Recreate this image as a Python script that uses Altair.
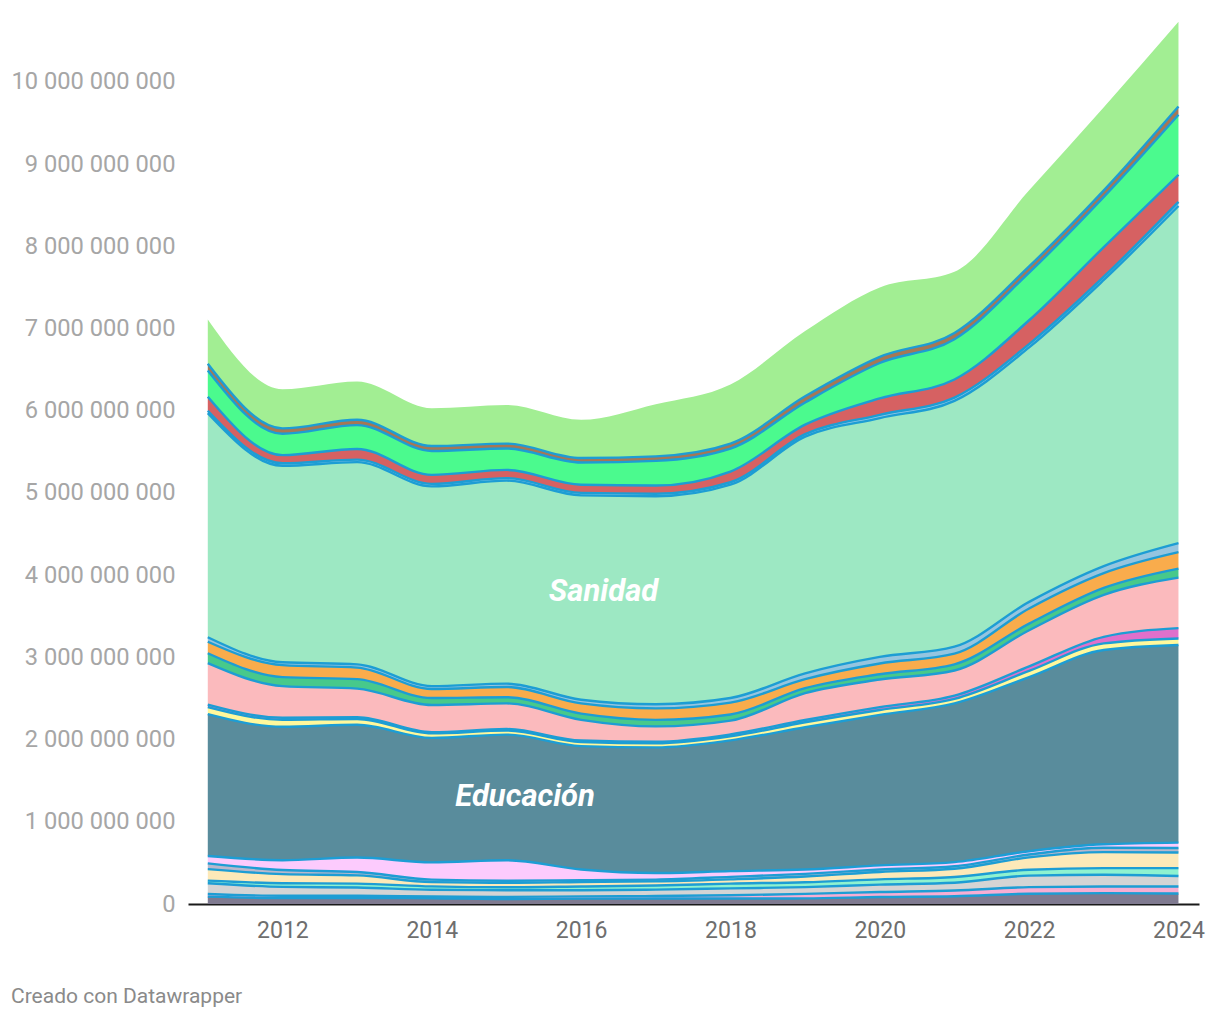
import altair as alt
import pandas as pd

years = list(range(2011, 2025))

# Series, bottom to top (values in millions of euros)
series_names = [
    "Deuda pública", "Justicia", "Seguridad", "Vivienda", "Empleo",
    "Cultura", "Agricultura", "Educación", "Comercio", "Industria",
    "Servicios sociales", "Medio ambiente", "Transporte", "Investigación",
    "Sanidad", "Turismo", "Administración general", "Transferencias",
    "Deporte", "Otros",
]
series_colors = [
    "#7f7a90", "#f7aed3", "#d4d4d4", "#8ef2d0", "#fde9b8",
    "#b8b8cc", "#fccbfd", "#598c9c", "#fff89c", "#e070cb",
    "#fbbabd", "#47c98b", "#f9ac4c", "#95c5e0", "#9de8c3",
    "#8fc6e6", "#d66162", "#4bfa8e", "#a67754", "#a2ee93",
]

deuda = [90, 73, 73, 70, 60, 65, 66, 66, 68, 85, 94, 125, 132, 128]
justicia = [32, 27, 27, 22, 26, 28, 31, 40, 55, 61, 70, 80, 81, 85]
seguridad = [130, 108, 100, 82, 82, 75, 78, 84, 82, 90, 95, 140, 143, 128]
vivienda = [32, 45, 48, 40, 35, 45, 50, 58, 60, 64, 70, 72, 80, 95]
empleo = [140, 110, 100, 52, 55, 55, 50, 52, 69, 90, 100, 150, 195, 190]
cultura = [70, 50, 42, 30, 25, 22, 22, 30, 33, 30, 30, 35, 53, 55]
agricultura = [90, 120, 175, 210, 250, 130, 80, 70, 52, 50, 50, 40, 42, 65]
educacion = [1726, 1622, 1615, 1514, 1527, 1500, 1528, 1590, 1731, 1830, 1931, 2118, 2364, 2404]
comercio = [85, 85, 70, 55, 50, 50, 50, 50, 60, 60, 55, 75, 80, 80]
industria = [30, 25, 22, 15, 18, 18, 18, 22, 28, 35, 40, 55, 80, 125]
servicios = [505, 385, 348, 330, 312, 252, 187, 168, 327, 335, 305, 440, 510, 615]
medioamb = [120, 110, 115, 85, 75, 75, 80, 75, 60, 65, 75, 80, 85, 110]
transporte = [140, 145, 140, 110, 125, 125, 140, 145, 110, 130, 130, 185, 180, 200]
investigacion = [55, 35, 40, 35, 40, 45, 50, 55, 70, 80, 85, 80, 85, 110]
sanidad = [2725, 2390, 2460, 2430, 2470, 2485, 2530, 2595, 2880, 2905, 2990, 3095, 3480, 4100]
turismo = [30, 30, 30, 30, 30, 30, 30, 30, 30, 40, 40, 40, 40, 50]
admin = [170, 100, 130, 110, 100, 100, 100, 130, 115, 200, 220, 290, 360, 330]
transfer = [320, 260, 290, 290, 260, 270, 300, 280, 270, 430, 490, 580, 610, 730]
deporte = [80, 65, 65, 60, 60, 55, 55, 60, 75, 75, 75, 75, 80, 100]
otros = [540, 475, 465, 460, 470, 465, 635, 720, 795, 845, 745, 925, 1010, 1030]

series_values = [
    deuda, justicia, seguridad, vivienda, empleo, cultura, agricultura,
    educacion, comercio, industria, servicios, medioamb, transporte,
    investigacion, sanidad, turismo, admin, transfer, deporte, otros,
]

y_ticks = [i * 1_000_000_000 for i in range(0, 11)]
x_ticks = [2012, 2014, 2016, 2018, 2020, 2022, 2024]

label_texts = ["Sanidad", "Educación"]
label_years = [2016.30, 2015.25]
label_values = [3.80e9, 1.30e9]

footer_text = ["Creado con Datawrapper"]

rows = []
for idx, (name, vals) in enumerate(zip(series_names, series_values)):
    for yr, v in zip(years, vals):
        rows.append({"series": name, "idx": idx, "year": yr, "value": v * 1_000_000})
df = pd.DataFrame(rows)
top_idx = len(series_names) - 1

x_scale = alt.Scale(domain=[2010.735, 2024.275], nice=False, zero=False)
y_scale = alt.Scale(domain=[0, 10.74e9], nice=False)

x_axis = alt.Axis(
    values=x_ticks, format="d", title=None, grid=False, ticks=False,
    domain=True, domainColor="#1a1a1a", domainWidth=2,
    labelFont="Roboto", labelFontSize=23, labelColor="#6e6e6e",
    labelPadding=15, labelFlush=False,
)
y_axis = alt.Axis(
    values=y_ticks, title=None, grid=False, ticks=False, domain=False,
    labelFont="Roboto", labelFontSize=23.7, labelColor="#a6a6a6",
    labelPadding=13,
    labelExpr="replace(format(datum.value, ',d'), regexp(',', 'g'), ' ')",
)

base = alt.Chart(df).transform_stack(
    stack="value",
    groupby=["year"],
    sort=[alt.SortField("idx", order="ascending")],
    as_=["y0", "y1"],
)

areas = base.mark_area(interpolate="monotone").encode(
    x=alt.X("year:Q", scale=x_scale, axis=x_axis),
    y=alt.Y("y1:Q", scale=y_scale, axis=y_axis),
    y2="y0:Q",
    color=alt.Color("series:N", scale=alt.Scale(domain=series_names, range=series_colors), legend=None),
)

lines = base.transform_filter(alt.datum.idx < top_idx).mark_line(
    interpolate="monotone", color="#1d9dd4", strokeWidth=2.4
).encode(
    x=alt.X("year:Q", scale=x_scale),
    y=alt.Y("y1:Q", scale=y_scale),
    detail="series:N",
    order="year:Q",
)

labels_df = pd.DataFrame({"label": label_texts, "x": label_years, "y": label_values})
labels = alt.Chart(labels_df).mark_text(
    font="Roboto", fontSize=31, fontWeight="bold", fontStyle="italic",
    color="white", align="center", baseline="middle",
).encode(
    x=alt.X("x:Q", scale=x_scale),
    y=alt.Y("y:Q", scale=y_scale),
    text="label:N",
)

footer = alt.Chart(pd.DataFrame({"t": footer_text})).mark_text(
    align="left", baseline="alphabetic", font="Roboto", fontSize=21, color="#8a8a8a",
).encode(
    x=alt.value(-177),
    y=alt.value(982),
    text="t:N",
)

chart = alt.layer(areas, lines, labels, footer).properties(
    width=1011,
    height=883,
    padding={"left": 180, "top": 13, "right": 10, "bottom": 105},
    autosize=alt.AutoSizeParams(type="none"),
    background="white",
).configure_view(stroke=None)

chart.save("out.html", embed_options={"renderer": "svg", "actions": False})
